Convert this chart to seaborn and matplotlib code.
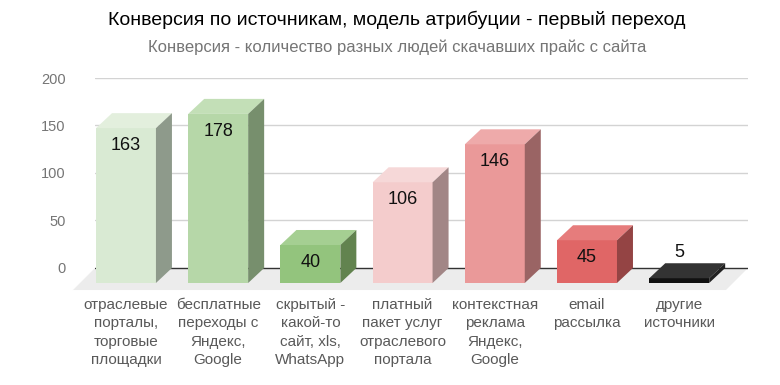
import matplotlib
matplotlib.use("Agg")
import matplotlib.pyplot as plt
import seaborn as sns
from matplotlib.patches import Polygon

# Data
categories = [
    "отраслевые\nпорталы,\nторговые\nплощадки",
    "бесплатные\nпереходы с\nЯндекс,\nGoogle",
    "скрытый -\nкакой-то\nсайт, xls,\nWhatsApp",
    "платный\nпакет услуг\nотраслевого\nпортала",
    "контекстная\nреклама\nЯндекс,\nGoogle",
    "email\nрассылка",
    "другие\nисточники",
]
values = [163, 178, 40, 106, 146, 45, 5]
front_colors = ["#d9ead3", "#b6d7a8", "#93c47d", "#f4cccc", "#ea9999", "#e06666", "#111111"]
top_colors = ["#e3efdd", "#c3dfb7", "#a5cf92", "#f6d8d8", "#eeaaaa", "#e67c7c", "#333333"]
side_colors = ["#8e9a8b", "#778f6d", "#62834f", "#a28686", "#9a6464", "#944444", "#222222"]
yticks = [0, 50, 100, 150, 200]

title = "Конверсия по источникам, модель атрибуции - первый переход"
subtitle = "Конверсия - количество разных людей скачавших прайс с сайта"

sns.set_theme(style="white")
plt.rcParams["font.family"] = ["Liberation Sans", "DejaVu Sans"]

fig = plt.figure(figsize=(7.8, 3.85), dpi=100)
ax = fig.add_axes([95 / 780, 0.2447, 653 / 780, 0.5527])

xmin, xmax = -0.336, 6.746
ymin, ymax = -24, 200
dx, dy = 0.1735, 15.8      # depth of the bars (data units)
fdx, fdy = 0.239, 23.2     # depth of the floor

sns.barplot(x=list(range(len(values))), y=values, hue=list(range(len(values))),
            palette=front_colors, width=0.65, legend=False, ax=ax,
            saturation=1, zorder=3, linewidth=0)

# grid + floor
for t in yticks[1:]:
    ax.axhline(t, color="#d3d3d3", lw=1, zorder=0)
floor = Polygon([(xmin, 0), (xmax, 0), (xmax - fdx, -fdy), (xmin - fdx, -fdy)],
                closed=True, facecolor="#ececec", edgecolor="none", zorder=1, clip_on=False)
ax.add_patch(floor)
ax.plot([xmin, xmax], [0, 0], color="#333333", lw=1, zorder=2)

# shift the fronts down and add top / side faces
for p, v, tc, sc in zip(ax.patches, values, top_colors, side_colors):
    p.set_y(-dy)
    x0 = p.get_x()
    x1 = x0 + p.get_width()
    top = Polygon([(x0, v - dy), (x1, v - dy), (x1 + dx, v), (x0 + dx, v)],
                  closed=True, facecolor=tc, edgecolor="none", zorder=3)
    side = Polygon([(x1, -dy), (x1 + dx, 0), (x1 + dx, v), (x1, v - dy)],
                   closed=True, facecolor=sc, edgecolor="none", zorder=3)
    ax.add_patch(top)
    ax.add_patch(side)

# value labels
for i, v in enumerate(values):
    if v > 20:
        ax.annotate(str(v), (i, v - dy), xytext=(0, -12.5), textcoords="offset points",
                    ha="center", va="center", fontsize=13, color="#111111", zorder=5)
    else:
        ax.annotate(str(v), (i, v), xytext=(0, 7.5), textcoords="offset points",
                    ha="center", va="center", fontsize=13, color="#111111", zorder=5)

ax.set_xlim(xmin, xmax)
ax.set_ylim(ymin, ymax)
ax.set_yticks(yticks)
ax.set_yticklabels([str(t) for t in yticks], color="#757575", fontsize=10.5)
ax.set_xticks(range(len(categories)))
ax.set_xticklabels(categories, color="#595959", fontsize=11, linespacing=1.4, va="top")
ax.tick_params(axis="x", length=0, pad=5)
ax.tick_params(axis="y", length=0, pad=21)
ax.set_xlabel("")
ax.set_ylabel("")
for s in ax.spines.values():
    s.set_visible(False)

fig.text(397 / 780, 1 - 20 / 385, title, ha="center", va="center", fontsize=14, color="#000000")
fig.text(397 / 780, 1 - 47 / 385, subtitle, ha="center", va="center", fontsize=12, color="#757575")

fig.savefig("out.png", dpi=100, facecolor="white")
